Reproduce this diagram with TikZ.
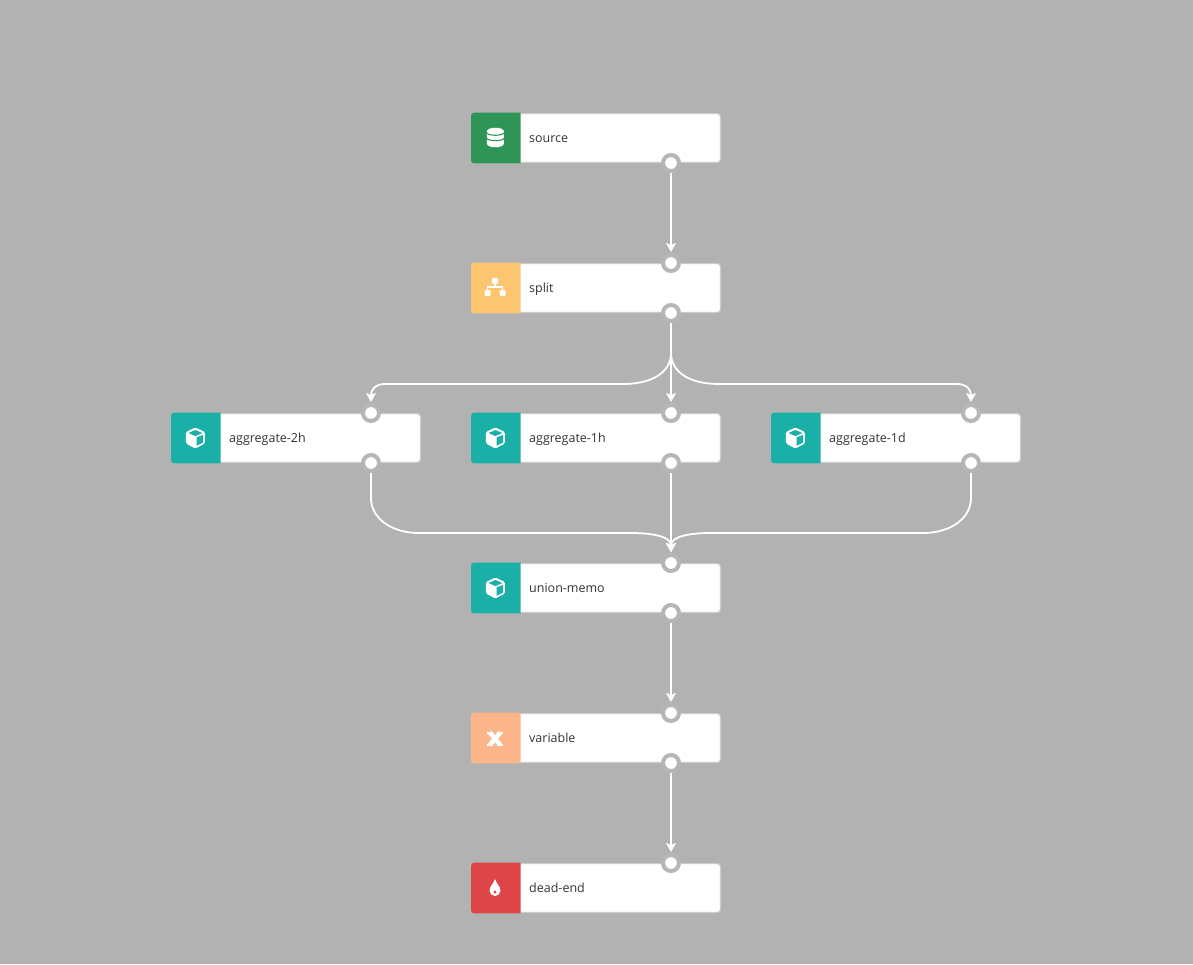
\documentclass[tikz,border=0pt]{standalone}
\usepackage{fontspec}
\setmainfont{Open Sans}
\usetikzlibrary{arrows.meta}
\definecolor{canvasgray}{HTML}{B2B2B2}
\definecolor{portgray}{HTML}{B6B6B6}
\definecolor{frameline}{HTML}{CCCCCC}
\definecolor{labelink}{HTML}{333333}
\definecolor{sourcegreen}{HTML}{2E9557}
\definecolor{splityellow}{HTML}{FDC56F}
\definecolor{cubeteal}{HTML}{1AB0A8}
\definecolor{varorange}{HTML}{FDB58A}
\definecolor{deadred}{HTML}{DE4548}
\newcommand{\icondb}{%
  \fill[white] (-8.1,-6.5) .. controls (-8.1,-11.5) and (8.9,-11.5) .. (8.9,-6.5)
    -- (8.9,5.5) .. controls (8.9,10.5) and (-8.1,10.5) .. (-8.1,5.5) -- cycle;
  \foreach \band in {-6.1,-0.7}
    \draw[sourcegreen, line width=1.1pt] (-8.8,\band) .. controls (-8.8,\band+4.5) and (9.6,\band+4.5) .. (9.6,\band);
}
\newcommand{\iconsplit}{%
  \draw[white, line width=1.3pt] (0,-5) -- (0,-1) (-7.5,4) -- (-7.5,-1) -- (7.5,-1) -- (7.5,4);
  \fill[white, rounded corners=1pt] (-3,-10) rectangle (3,-4);
  \fill[white, rounded corners=1pt] (-10.5,2) rectangle (-4.5,8);
  \fill[white, rounded corners=1pt] (4.5,2) rectangle (10.5,8);
}
\newcommand{\iconcube}{%
  \fill[white, rounded corners=1.5pt] (0.4,-10.5) -- (9.9,-6) -- (9.9,5.5) -- (0.4,10.5)
    -- (-9.1,5.5) -- (-9.1,-6) -- cycle;
  \fill[cubeteal] (0.4,-8) -- (7.4,-5) -- (0.4,-2) -- (-6.6,-5) -- cycle;
  \fill[cubeteal] (1.6,-0.5) -- (8.2,-3.2) -- (8.2,4.5) -- (1.6,7.8) -- cycle;
}
\newcommand{\iconvar}{%
  \draw[white, line width=4.6pt] (-5.2,-5.5) -- (5.2,7) (5.2,-5.5) -- (-5.2,7);
  \foreach \sx/\sy in {-8/-6.5, 3.5/-6.5, -8/5.5, 3.5/5.5}
    \fill[white] (\sx,\sy) rectangle (\sx+4.5,\sy+2.5);
}
\newcommand{\icondrop}{%
  \fill[white] (0,-9) .. controls (1,-5) and (5.5,-1.5) .. (5.5,2.5)
    .. controls (5.5,5.6) and (3,8) .. (0,8)
    .. controls (-3,8) and (-5.5,5.6) .. (-5.5,2.5)
    .. controls (-5.5,-1.5) and (-1,-5) .. cycle;
  \fill[deadred] (0,4) circle[radius=1.6];
}

\begin{document}
\begin{tikzpicture}[
  x=1pt,
  y=-1pt,
  stage/.style={draw=frameline, fill=white, line width=1.2pt, rounded corners=3pt,
    minimum width=248.8pt, minimum height=48.8pt, inner sep=0pt},
  tile/.style={minimum width=49pt, minimum height=49pt, inner sep=0pt},
  stagelabel/.style={font=\fontsize{12.5pt}{15pt}\selectfont, text=labelink, inner sep=0pt, anchor=base west},
  port/.style={circle, fill=white, draw=portgray, line width=4pt, minimum size=16pt, inner sep=0pt},
  edge/.style={white, line width=1.8pt, -{Stealth[length=9pt, width=10pt, inset=2pt]}, shorten >=1pt}
]
\useasboundingbox[fill=canvasgray] (0,0) rectangle (1193,964);

% =====================================================================
% stages: box, coloured tile, icon and label
% =====================================================================
\foreach \name/\cx/\cy/\tint/\icon in {
    source/596/138/sourcegreen/icondb,
    split/596/288/splityellow/iconsplit,
    aggregate-2h/296/438/cubeteal/iconcube,
    aggregate-1h/596/438/cubeteal/iconcube,
    aggregate-1d/896/438/cubeteal/iconcube,
    union-memo/596/588/cubeteal/iconcube,
    variable/596/738/varorange/iconvar,
    dead-end/596/888/deadred/icondrop} {
  \node[stage] (\name) at (\cx,\cy) {};
  \fill[\tint, rounded corners=3pt] ([shift={(0,-0.3)}]\name.north west)
    [sharp corners] -- ([shift={(49.6,-0.3)}]\name.north west)
    -- ([shift={(49.6,0.3)}]\name.south west)
    [rounded corners=3pt] -- ([shift={(0,0.3)}]\name.south west) -- cycle;
  \node[tile] (\name-tile) at ([xshift=24pt]\name.west) {};
  \begin{scope}[shift={(\name-tile.center)}]
    \csname\icon\endcsname
  \end{scope}
  \node[stagelabel] (\name-label) at ([shift={(58,4.2)}]\name.west) {\name};
}

% =====================================================================
% ports
% =====================================================================
\foreach \name in {split, aggregate-2h, aggregate-1h, aggregate-1d, union-memo, variable, dead-end}
  \node[port] (\name-in) at ([xshift=-50pt]\name.north east) {};
\foreach \name in {source, split, aggregate-2h, aggregate-1h, aggregate-1d, union-memo, variable}
  \node[port] (\name-out) at ([xshift=-50pt]\name.south east) {};

% =====================================================================
% straight edges
% =====================================================================
\foreach \from/\to in {source/split, union-memo/variable, variable/dead-end, split/aggregate-1h}
  \draw[edge] (\from-out) -- (\to-in);
\draw[edge] (aggregate-1h-out) -- (union-memo-in);

% =====================================================================
% fan out of split
% =====================================================================
\draw[edge] (split-out.south) -- ++(0,30)
  .. controls +(0,20) and +(28,0) .. ++(-48,31) -- ++(-238,0)
  .. controls +(-9,0) and +(0,-24) .. (aggregate-2h-in);
\draw[edge] (split-out.south) -- ++(0,30)
  .. controls +(0,20) and +(-28,0) .. ++(48,31) -- ++(238,0)
  .. controls +(9,0) and +(0,-24) .. (aggregate-1d-in);

% =====================================================================
% fan in to union-memo
% =====================================================================
\draw[edge] (aggregate-2h-out.south) -- ++(0,25)
  .. controls +(0,20) and +(-28,0) .. ++(48,35) -- ++(212,0)
  .. controls +(20,0) and +(0,-27) .. (union-memo-in);
\draw[edge] (aggregate-1d-out.south) -- ++(0,25)
  .. controls +(0,20) and +(28,0) .. ++(-48,35) -- ++(-212,0)
  .. controls +(-20,0) and +(0,-27) .. (union-memo-in);

\end{tikzpicture}
\end{document}
